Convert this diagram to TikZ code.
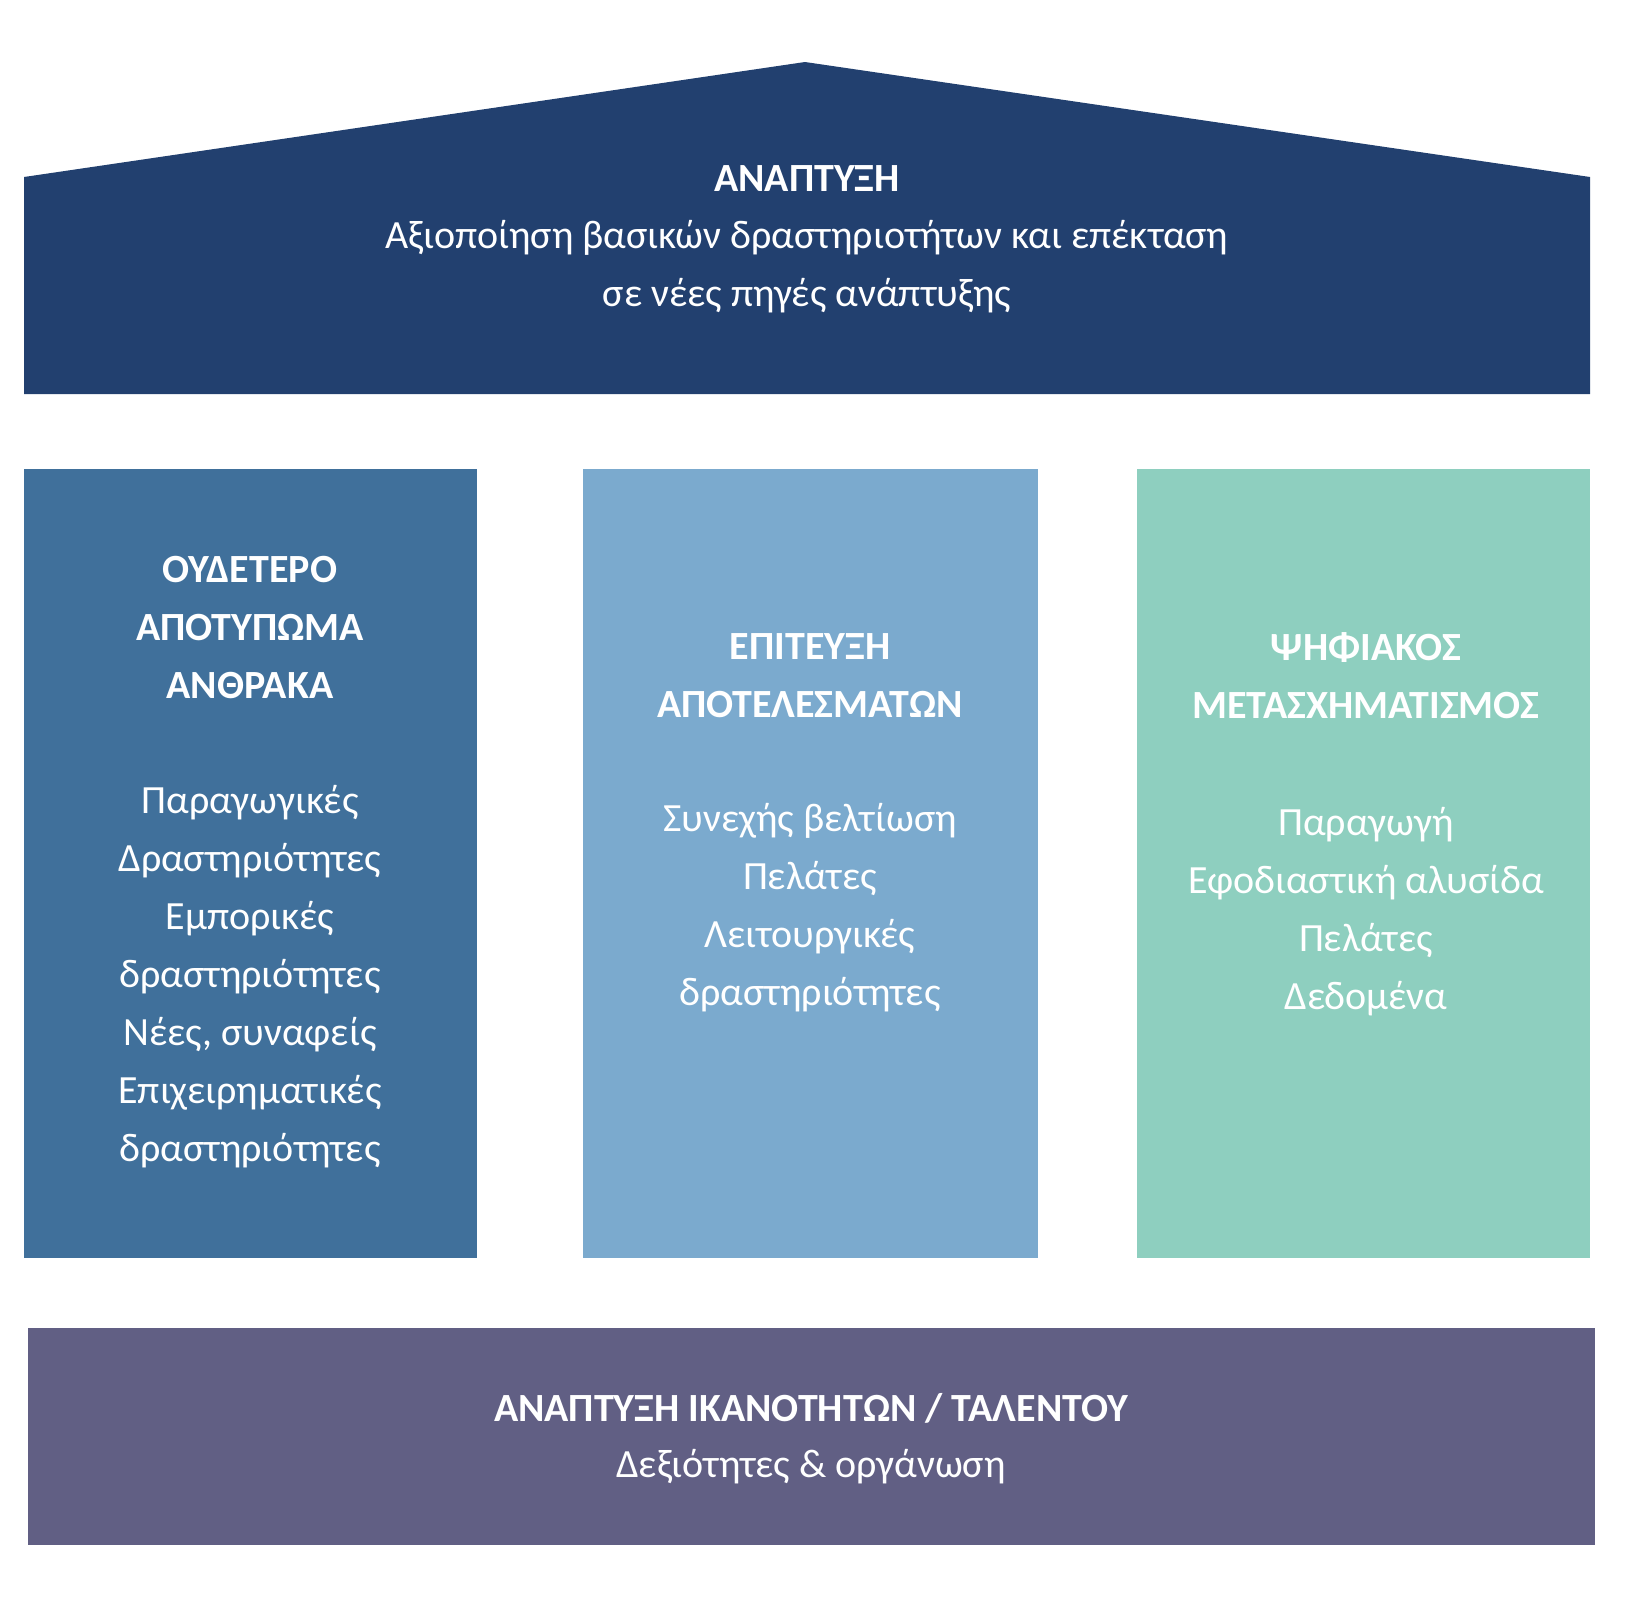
\documentclass[tikz,border=0pt]{standalone}
\usepackage{fontspec}
\setmainfont{Carlito}
\definecolor{roofc}{HTML}{22406F}
\definecolor{cola}{HTML}{40709B}
\definecolor{colb}{HTML}{7BAACE}
\definecolor{colc}{HTML}{8ECFBF}
\definecolor{basec}{HTML}{615F84}
\begin{document}
\begin{tikzpicture}[x=1pt,y=-1pt,
  txt/.style={text=white,align=center,font=\fontsize{40}{58}\selectfont,inner sep=0pt},
  hd/.style={txt,font=\fontsize{40}{58}\selectfont\bfseries}]
\useasboundingbox (0,0) rectangle (1628,1614);
\fill[roofc] (24,177) -- (805,62) -- (1590,177) -- (1590,394) -- (24,394) -- cycle;
\fill[cola] (24,469) rectangle (477,1258);
\fill[colb] (583,469) rectangle (1038,1258);
\fill[colc] (1137,469) rectangle (1590,1258);
\fill[basec] (28,1328) rectangle (1595,1545);
\node[hd] (t1) at (807,179) {ΑΝΑΠΤΥΞΗ};
\node[txt] (t2) at (807,267) {Αξιοποίηση βασικών δραστηριοτήτων και επέκταση\\σε νέες πηγές ανάπτυξης};
\node[hd] (a1) at (250,628) {ΟΥΔΕΤΕΡΟ\\ΑΠΟΤΥΠΩΜΑ\\ΑΝΘΡΑΚΑ};
\node[txt] (a2) at (250,977) {Παραγωγικές\\Δραστηριότητες\\Εμπορικές\\δραστηριότητες\\Νέες, συναφείς\\Επιχειρηματικές\\δραστηριότητες};
\node[hd] (b1) at (810,676) {ΕΠΙΤΕΥΞΗ\\ΑΠΟΤΕΛΕΣΜΑΤΩΝ};
\node[txt] (b2) at (810,908) {Συνεχής βελτίωση\\Πελάτες\\Λειτουργικές\\δραστηριότητες};
\node[hd] (c1) at (1366,676) {ΨΗΦΙΑΚΟΣ\\ΜΕΤΑΣΧΗΜΑΤΙΣΜΟΣ};
\node[txt] (c2) at (1366,912) {Παραγωγή\\Εφοδιαστική αλυσίδα\\Πελάτες\\Δεδομένα};
\node[hd] (d1) at (811,1408) {ΑΝΑΠΤΥΞΗ ΙΚΑΝΟΤΗΤΩΝ / ΤΑΛΕΝΤΟΥ};
\node[txt] (d2) at (811,1467) {Δεξιότητες \& οργάνωση};
\end{tikzpicture}
\end{document}
